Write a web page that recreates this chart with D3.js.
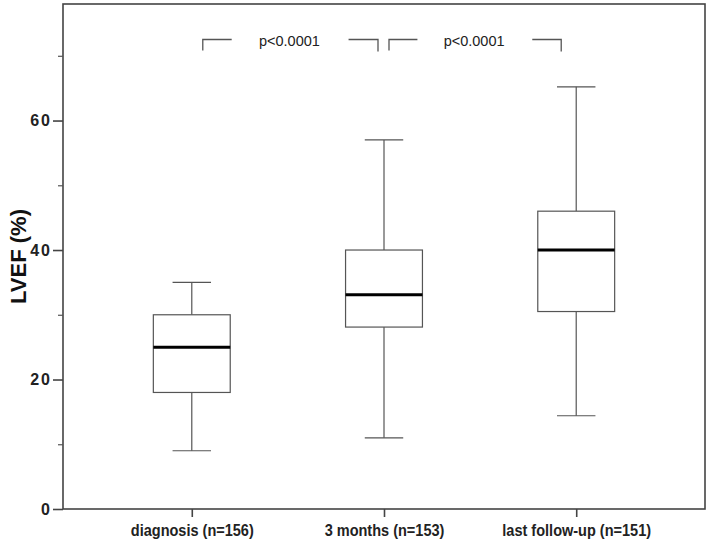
<!DOCTYPE html>
<html><head><meta charset="utf-8">
<script src="https://cdn.jsdelivr.net/npm/d3@7"></script>
<style>body{margin:0;background:#fff}svg{display:block}</style>
</head><body>
<svg id="c" width="709" height="543"></svg>
<script>
const categories = ["diagnosis (n=156)", "3 months (n=153)", "last follow-up (n=151)"];
const whiskerLow  = [9, 11, 14.4];
const q1          = [18, 28.1, 30.5];
const median      = [25, 33.1, 40];
const q3          = [30, 40, 46];
const whiskerHigh = [35, 57, 65.2];
const majorTicks = [0, 20, 40, 60];
const minorTicks = [10, 30, 50, 70];
const comparisons = [[0, 1, "p<0.0001"], [1, 2, "p<0.0001"]];
const yTitle = "LVEF (%)";

const svg = d3.select("#c");
const L = 63, R = 705, T = 4, B = 509;
const x = d3.scalePoint().domain(categories).range([L, R]).padding(0.67);
const y = d3.scaleLinear().domain([0, 78]).range([B, T]);
const step = x.step();
const boxW = step * 0.4, capW = boxW * 0.5;
const col = "#555";

// frame
svg.append("rect").attr("x", L).attr("y", T).attr("width", R - L).attr("height", B - T)
  .attr("fill", "none").attr("stroke", "#444").attr("stroke-width", 1.6);

// y axis
const yAx = svg.append("g").attr("transform", `translate(${L},0)`)
  .call(d3.axisLeft(y).tickValues(majorTicks).tickSize(10).tickPadding(1).tickFormat(d3.format("d")));
yAx.select(".domain").remove();
yAx.selectAll("line").attr("stroke", "#444").attr("stroke-width", 1.6);
yAx.selectAll("text").attr("font-family", "Liberation Sans, Arial, sans-serif")
  .attr("font-weight", "bold").attr("font-size", 16).attr("fill", "#222").attr("letter-spacing", 2);
const yMin = svg.append("g").attr("transform", `translate(${L},0)`)
  .call(d3.axisLeft(y).tickValues(minorTicks).tickSize(5).tickFormat(""));
yMin.select(".domain").remove();
yMin.selectAll("line").attr("stroke", col).attr("stroke-width", 1.2);

// x axis
const xAx = svg.append("g").attr("transform", `translate(0,${B})`)
  .call(d3.axisBottom(x).tickSize(8).tickPadding(7));
xAx.select(".domain").remove();
xAx.selectAll("line").attr("stroke", "#444").attr("stroke-width", 1.6);
xAx.selectAll("text").attr("font-family", "Liberation Sans, Arial, sans-serif")
  .attr("font-weight", "bold").attr("font-size", 16.5).attr("fill", "#222")
  .attr("transform", "scale(0.88,1)");

// y title
svg.append("text").attr("transform", `translate(26,${(T + B) / 2}) rotate(-90)`)
  .attr("text-anchor", "middle").attr("font-family", "Liberation Sans, Arial, sans-serif")
  .attr("font-weight", "bold").attr("font-size", 22).attr("fill", "#111").text(yTitle);

// boxes
const g = svg.append("g");
categories.forEach((c, i) => {
  const cx = x(c);
  g.append("line").attr("x1", cx).attr("x2", cx).attr("y1", y(whiskerHigh[i])).attr("y2", y(q3[i]))
    .attr("stroke", col).attr("stroke-width", 1.2);
  g.append("line").attr("x1", cx).attr("x2", cx).attr("y1", y(q1[i])).attr("y2", y(whiskerLow[i]))
    .attr("stroke", col).attr("stroke-width", 1.2);
  [whiskerHigh[i], whiskerLow[i]].forEach(v => {
    g.append("line").attr("x1", cx - capW / 2).attr("x2", cx + capW / 2).attr("y1", y(v)).attr("y2", y(v))
      .attr("stroke", col).attr("stroke-width", 1.2);
  });
  g.append("rect").attr("x", cx - boxW / 2).attr("width", boxW).attr("y", y(q3[i]))
    .attr("height", y(q1[i]) - y(q3[i])).attr("fill", "#fff").attr("stroke", col).attr("stroke-width", 1.2);
  g.append("line").attr("x1", cx - boxW / 2).attr("x2", cx + boxW / 2).attr("y1", y(median[i])).attr("y2", y(median[i]))
    .attr("stroke", "#000").attr("stroke-width", 3);
});

// brackets
const by = 39.5, bDrop = 11;
comparisons.forEach(([a, b, lab], k) => {
  const x1 = x(categories[a]) + (k === 0 ? 11 : 5);
  const x2 = x(categories[b]) - (k === 0 ? 6 : 15);
  const mid = (x1 + x2) / 2;
  svg.append("path").attr("d", `M${x1},${by + bDrop}V${by}H${x1 + (x2 - x1) * 0.165}`)
    .attr("fill", "none").attr("stroke", col).attr("stroke-width", 1.3);
  svg.append("path").attr("d", `M${x2 - (x2 - x1) * 0.168},${by}H${x2}V${by + bDrop + 1}`)
    .attr("fill", "none").attr("stroke", col).attr("stroke-width", 1.3);
  svg.append("text").attr("x", mid - 1).attr("y", 45.5).attr("text-anchor", "middle")
    .attr("font-family", "Liberation Sans, Arial, sans-serif").attr("font-size", 14.5).attr("fill", "#222").text(lab);
});
</script>
</body></html>
